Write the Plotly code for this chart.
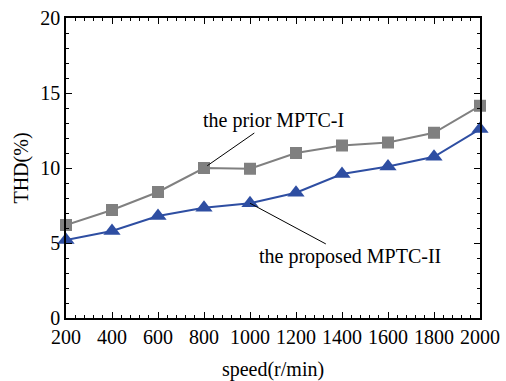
import plotly.graph_objects as go

speed = [200, 400, 600, 800, 1000, 1200, 1400, 1600, 1800, 2000]
thd_prior = [6.2, 7.2, 8.4, 10.0, 9.95, 11.0, 11.5, 11.7, 12.35, 14.15]
thd_proposed = [5.2, 5.8, 6.8, 7.35, 7.65, 8.35, 9.6, 10.1, 10.75, 12.6]

FONT = "Liberation Serif"
FS = 20

fig = go.Figure()
fig.add_trace(go.Scatter(
    x=speed, y=thd_prior, mode="lines+markers", cliponaxis=False,
    line=dict(color="#808080", width=2),
    marker=dict(symbol="square", size=12, color="#808080"),
    name="the prior MPTC-I"))
fig.add_trace(go.Scatter(
    x=speed, y=thd_proposed, mode="lines+markers", cliponaxis=False,
    line=dict(color="#2E4EA2", width=2),
    marker=dict(symbol="triangle-up", size=15, color="#2E4EA2"),
    name="the proposed MPTC-II"))

fig.add_annotation(x=800, y=10.0, xref="x", yref="y", ax=1100, ay=13.2,
                   axref="x", ayref="y",
                   text="the prior MPTC-I", showarrow=True, arrowhead=0,
                   arrowwidth=1, arrowcolor="black", standoff=4, startstandoff=0,
                   font=dict(family=FONT, size=FS, color="black"))
fig.add_annotation(x=1000, y=7.65, xref="x", yref="y", ax=1435, ay=4.07,
                   axref="x", ayref="y",
                   text="the proposed MPTC-II", showarrow=True, arrowhead=0,
                   arrowwidth=1, arrowcolor="black", standoff=0, startstandoff=0,
                   font=dict(family=FONT, size=FS, color="black"))

axis_common = dict(showline=True, linecolor="black", linewidth=1.5, mirror="ticks",
                   ticks="inside", ticklen=6, tickcolor="black", tickwidth=1,
                   showgrid=False, zeroline=False, automargin=False,
                   tickfont=dict(family=FONT, size=FS, color="black"))
fig.update_xaxes(range=[200, 2000], tickvals=speed, **axis_common,
                 minor=dict(dtick=40, ticks="inside", ticklen=3, tickcolor="black"),
                 title=dict(text="speed(r/min)", font=dict(family=FONT, size=FS, color="black"),
                            standoff=16))
fig.update_yaxes(range=[0, 20], dtick=5, **axis_common,
                 minor=dict(dtick=1, ticks="inside", ticklen=3, tickcolor="black"),
                 title=dict(text="THD(%)", font=dict(family=FONT, size=FS, color="black"),
                            standoff=6))

fig.update_layout(width=506, height=381, showlegend=False,
                  margin=dict(l=66, r=26, t=18, b=63),
                  plot_bgcolor="white", paper_bgcolor="white")

fig.write_html("out.html", config={"displayModeBar": False},
               post_script="document.body.style.margin='0';")
